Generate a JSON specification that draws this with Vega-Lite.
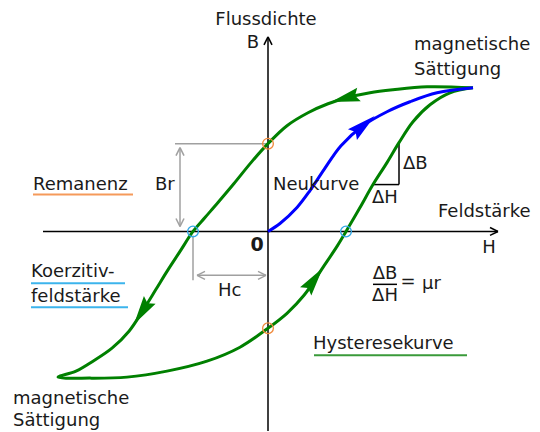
{
  "$schema": "https://vega.github.io/schema/vega-lite/v6.json",
  "width": 540,
  "height": 432,
  "autosize": {"type": "fit", "contains": "padding"},
  "padding": 0,
  "background": "white",
  "config": {"view": {"stroke": null}, "text": {"font": "DejaVu Sans", "fontSize": 18, "color": "#1a1a1a"}},
  "datasets": {
    "segments": [
      {"group": "axis", "H": -225, "B": 0, "H2": 230, "B2": 0},
      {"group": "axis", "H": 222, "B": 4, "H2": 230, "B2": 0},
      {"group": "axis", "H": 222, "B": -4, "H2": 230, "B2": 0},
      {"group": "axis", "H": 0, "B": -200, "H2": 0, "B2": 195},
      {"group": "axis", "H": -4, "B": 187, "H2": 0, "B2": 195},
      {"group": "axis", "H": 4, "B": 187, "H2": 0, "B2": 195},
      {"group": "axis", "H": 131, "B": 89, "H2": 131, "B2": 47},
      {"group": "axis", "H": 104, "B": 47, "H2": 131, "B2": 47},
      {"group": "axis", "H": 105, "B": -53, "H2": 129, "B2": -53},
      {"group": "dimension", "H": -93, "B": 88, "H2": 0, "B2": 88},
      {"group": "dimension", "H": -88, "B": 84, "H2": -88, "B2": 5},
      {"group": "dimension", "H": -92, "B": 76, "H2": -88, "B2": 84},
      {"group": "dimension", "H": -84, "B": 76, "H2": -88, "B2": 84},
      {"group": "dimension", "H": -92, "B": 13, "H2": -88, "B2": 5},
      {"group": "dimension", "H": -84, "B": 13, "H2": -88, "B2": 5},
      {"group": "dimension", "H": -75, "B": -4, "H2": -75, "B2": -49},
      {"group": "dimension", "H": -71, "B": -44, "H2": -2, "B2": -44},
      {"group": "dimension", "H": -63, "B": -40, "H2": -71, "B2": -44},
      {"group": "dimension", "H": -63, "B": -48, "H2": -71, "B2": -44},
      {"group": "dimension", "H": -10, "B": -40, "H2": -2, "B2": -44},
      {"group": "dimension", "H": -10, "B": -48, "H2": -2, "B2": -44},
      {"group": "Remanenz", "H": -235, "B": 37, "H2": -135, "B2": 37},
      {"group": "Koerzitiv", "H": -237, "B": -52, "H2": -143, "B2": -52},
      {"group": "Koerzitiv", "H": -237, "B": -76, "H2": -140, "B2": -76},
      {"group": "Hysterese", "H": 46, "B": -124, "H2": 199, "B2": -124}
    ],
    "curves": [
      {"curve": "Hysteresekurve", "i": 1, "H": 205, "B": 144},
      {"curve": "Hysteresekurve", "i": 2, "H": 159, "B": 145},
      {"curve": "Hysteresekurve", "i": 3, "H": 125, "B": 142},
      {"curve": "Hysteresekurve", "i": 4, "H": 102, "B": 139},
      {"curve": "Hysteresekurve", "i": 5, "H": 79, "B": 134},
      {"curve": "Hysteresekurve", "i": 6, "H": 60, "B": 128},
      {"curve": "Hysteresekurve", "i": 7, "H": 40, "B": 119},
      {"curve": "Hysteresekurve", "i": 8, "H": 19, "B": 106},
      {"curve": "Hysteresekurve", "i": 9, "H": 0, "B": 88},
      {"curve": "Hysteresekurve", "i": 10, "H": -17, "B": 69},
      {"curve": "Hysteresekurve", "i": 11, "H": -34, "B": 48},
      {"curve": "Hysteresekurve", "i": 12, "H": -50, "B": 29},
      {"curve": "Hysteresekurve", "i": 13, "H": -63, "B": 14},
      {"curve": "Hysteresekurve", "i": 14, "H": -75, "B": 0},
      {"curve": "Hysteresekurve", "i": 15, "H": -88, "B": -20},
      {"curve": "Hysteresekurve", "i": 16, "H": -101, "B": -40},
      {"curve": "Hysteresekurve", "i": 17, "H": -112, "B": -58},
      {"curve": "Hysteresekurve", "i": 18, "H": -125, "B": -79},
      {"curve": "Hysteresekurve", "i": 19, "H": -139, "B": -100},
      {"curve": "Hysteresekurve", "i": 20, "H": -156, "B": -117},
      {"curve": "Hysteresekurve", "i": 21, "H": -175, "B": -130},
      {"curve": "Hysteresekurve", "i": 22, "H": -192, "B": -140},
      {"curve": "Hysteresekurve", "i": 23, "H": -210, "B": -146},
      {"curve": "Hysteresekurve", "i": 24, "H": -178, "B": -147},
      {"curve": "Hysteresekurve", "i": 25, "H": -141, "B": -146},
      {"curve": "Hysteresekurve", "i": 26, "H": -101, "B": -140},
      {"curve": "Hysteresekurve", "i": 27, "H": -61, "B": -130},
      {"curve": "Hysteresekurve", "i": 28, "H": -28, "B": -116},
      {"curve": "Hysteresekurve", "i": 29, "H": 0, "B": -97},
      {"curve": "Hysteresekurve", "i": 30, "H": 19, "B": -82},
      {"curve": "Hysteresekurve", "i": 31, "H": 36, "B": -64},
      {"curve": "Hysteresekurve", "i": 32, "H": 55, "B": -36},
      {"curve": "Hysteresekurve", "i": 33, "H": 69, "B": -15},
      {"curve": "Hysteresekurve", "i": 34, "H": 78, "B": 0},
      {"curve": "Hysteresekurve", "i": 35, "H": 92, "B": 24},
      {"curve": "Hysteresekurve", "i": 36, "H": 105, "B": 47},
      {"curve": "Hysteresekurve", "i": 37, "H": 119, "B": 69},
      {"curve": "Hysteresekurve", "i": 38, "H": 131, "B": 89},
      {"curve": "Hysteresekurve", "i": 39, "H": 145, "B": 110},
      {"curve": "Hysteresekurve", "i": 40, "H": 162, "B": 127},
      {"curve": "Hysteresekurve", "i": 41, "H": 182, "B": 139},
      {"curve": "Hysteresekurve", "i": 42, "H": 205, "B": 144},
      {"curve": "Neukurve", "i": 1, "H": 0, "B": 0},
      {"curve": "Neukurve", "i": 2, "H": 12, "B": 8},
      {"curve": "Neukurve", "i": 3, "H": 29, "B": 24},
      {"curve": "Neukurve", "i": 4, "H": 42, "B": 41},
      {"curve": "Neukurve", "i": 5, "H": 56, "B": 62},
      {"curve": "Neukurve", "i": 6, "H": 73, "B": 86},
      {"curve": "Neukurve", "i": 7, "H": 95, "B": 106},
      {"curve": "Neukurve", "i": 8, "H": 119, "B": 120},
      {"curve": "Neukurve", "i": 9, "H": 142, "B": 130},
      {"curve": "Neukurve", "i": 10, "H": 169, "B": 139},
      {"curve": "Neukurve", "i": 11, "H": 205, "B": 144}
    ],
    "arrows": [
      {"curve": "Hysteresekurve", "H": 79, "B": 134, "dir": 255},
      {"curve": "Hysteresekurve", "H": -125, "B": -79, "dir": 213},
      {"curve": "Hysteresekurve", "H": 45, "B": -50, "dir": 36},
      {"curve": "Neukurve", "H": 94, "B": 105, "dir": 50}
    ],
    "points": [
      {"kind": "Remanenz", "H": 0, "B": 88},
      {"kind": "Remanenz", "H": 0, "B": -97},
      {"kind": "Koerzitiv", "H": -75, "B": 0},
      {"kind": "Koerzitiv", "H": 78, "B": 0}
    ],
    "labels": [
      {"text": "magnetische", "H": 146, "B": 187},
      {"text": "Sättigung", "H": 146, "B": 162},
      {"text": "Remanenz", "H": -235, "B": 47},
      {"text": "Br", "H": -113, "B": 47},
      {"text": "Neukurve", "H": 5, "B": 47},
      {"text": "ΔB", "H": 135, "B": 68},
      {"text": "ΔH", "H": 104, "B": 34},
      {"text": "Feldstärke", "H": 170, "B": 20},
      {"text": "Koerzitiv-", "H": -237, "B": -41},
      {"text": "feldstärke", "H": -237, "B": -66},
      {"text": "Hc", "H": -50, "B": -60},
      {"text": "μr", "H": 154, "B": -53},
      {"text": "Hysteresekurve", "H": 45, "B": -113},
      {"text": "magnetische", "H": -255, "B": -168},
      {"text": "Sättigung", "H": -255, "B": -190}
    ],
    "centered": [
      {"text": "Flussdichte", "H": -2, "B": 212},
      {"text": "B", "H": -15, "B": 189},
      {"text": "H", "H": 221, "B": -17},
      {"text": "ΔB", "H": 117, "B": -43},
      {"text": "ΔH", "H": 117, "B": -65},
      {"text": "=", "H": 140, "B": -51}
    ],
    "origin": [
      {"text": "0", "H": -11, "B": -14}
    ]
  },
  "encoding": {
    "x": {"field": "H", "type": "quantitative", "scale": {"domain": [-268, 272], "nice": false, "zero": false}, "axis": null},
    "y": {"field": "B", "type": "quantitative", "scale": {"domain": [-200, 232], "nice": false, "zero": false}, "axis": null}
  },
  "layer": [
    {
      "data": {"name": "segments"},
      "transform": [{"filter": "datum.group === 'dimension'"}],
      "mark": {"type": "rule", "color": "#a0a0a0", "strokeWidth": 1.5},
      "encoding": {"x2": {"field": "H2"}, "y2": {"field": "B2"}}
    },
    {
      "data": {"name": "segments"},
      "transform": [{"filter": "datum.group === 'axis'"}],
      "mark": {"type": "rule", "color": "#000000", "strokeWidth": 1.5},
      "encoding": {"x2": {"field": "H2"}, "y2": {"field": "B2"}}
    },
    {
      "data": {"name": "segments"},
      "transform": [{"filter": "datum.group === 'Remanenz'"}],
      "mark": {"type": "rule", "color": "#f59a5a", "strokeWidth": 2},
      "encoding": {"x2": {"field": "H2"}, "y2": {"field": "B2"}}
    },
    {
      "data": {"name": "segments"},
      "transform": [{"filter": "datum.group === 'Koerzitiv'"}],
      "mark": {"type": "rule", "color": "#3cb4ec", "strokeWidth": 2},
      "encoding": {"x2": {"field": "H2"}, "y2": {"field": "B2"}}
    },
    {
      "data": {"name": "segments"},
      "transform": [{"filter": "datum.group === 'Hysterese'"}],
      "mark": {"type": "rule", "color": "#3a9a3a", "strokeWidth": 2},
      "encoding": {"x2": {"field": "H2"}, "y2": {"field": "B2"}}
    },
    {
      "data": {"name": "curves"},
      "transform": [{"filter": "datum.curve === 'Hysteresekurve'"}],
      "mark": {"type": "line", "color": "#008000", "strokeWidth": 3, "interpolate": "catmull-rom", "strokeJoin": "round"},
      "encoding": {"order": {"field": "i", "type": "quantitative"}}
    },
    {
      "data": {"name": "curves"},
      "transform": [{"filter": "datum.curve === 'Neukurve'"}],
      "mark": {"type": "line", "color": "#0000ff", "strokeWidth": 3, "interpolate": "catmull-rom", "strokeJoin": "round"},
      "encoding": {"order": {"field": "i", "type": "quantitative"}}
    },
    {
      "data": {"name": "arrows"},
      "transform": [{"filter": "datum.curve === 'Hysteresekurve'"}],
      "mark": {"type": "point", "shape": "M0,-1L0.42,0.75L0,0.5L-0.42,0.75Z", "filled": true, "color": "#008000", "opacity": 1, "size": 1100},
      "encoding": {"angle": {"field": "dir", "type": "quantitative", "scale": null}}
    },
    {
      "data": {"name": "arrows"},
      "transform": [{"filter": "datum.curve === 'Neukurve'"}],
      "mark": {"type": "point", "shape": "M0,-1L0.42,0.75L0,0.5L-0.42,0.75Z", "filled": true, "color": "#0000ff", "opacity": 1, "size": 1100},
      "encoding": {"angle": {"field": "dir", "type": "quantitative", "scale": null}}
    },
    {
      "data": {"name": "points"},
      "transform": [{"filter": "datum.kind === 'Remanenz'"}],
      "mark": {"type": "point", "shape": "circle", "filled": false, "color": "#f08a3c", "strokeWidth": 1.3, "size": 115, "opacity": 1}
    },
    {
      "data": {"name": "points"},
      "transform": [{"filter": "datum.kind === 'Koerzitiv'"}],
      "mark": {"type": "point", "shape": "circle", "filled": false, "color": "#30a8e6", "strokeWidth": 1.3, "size": 115, "opacity": 1}
    },
    {
      "data": {"name": "labels"},
      "mark": {"type": "text", "align": "left", "baseline": "middle"},
      "encoding": {"text": {"field": "text"}}
    },
    {
      "data": {"name": "centered"},
      "mark": {"type": "text", "align": "center", "baseline": "middle"},
      "encoding": {"text": {"field": "text"}}
    },
    {
      "data": {"name": "origin"},
      "mark": {"type": "text", "align": "center", "baseline": "middle", "fontWeight": "bold", "fontSize": 19},
      "encoding": {"text": {"field": "text"}}
    }
  ]
}
